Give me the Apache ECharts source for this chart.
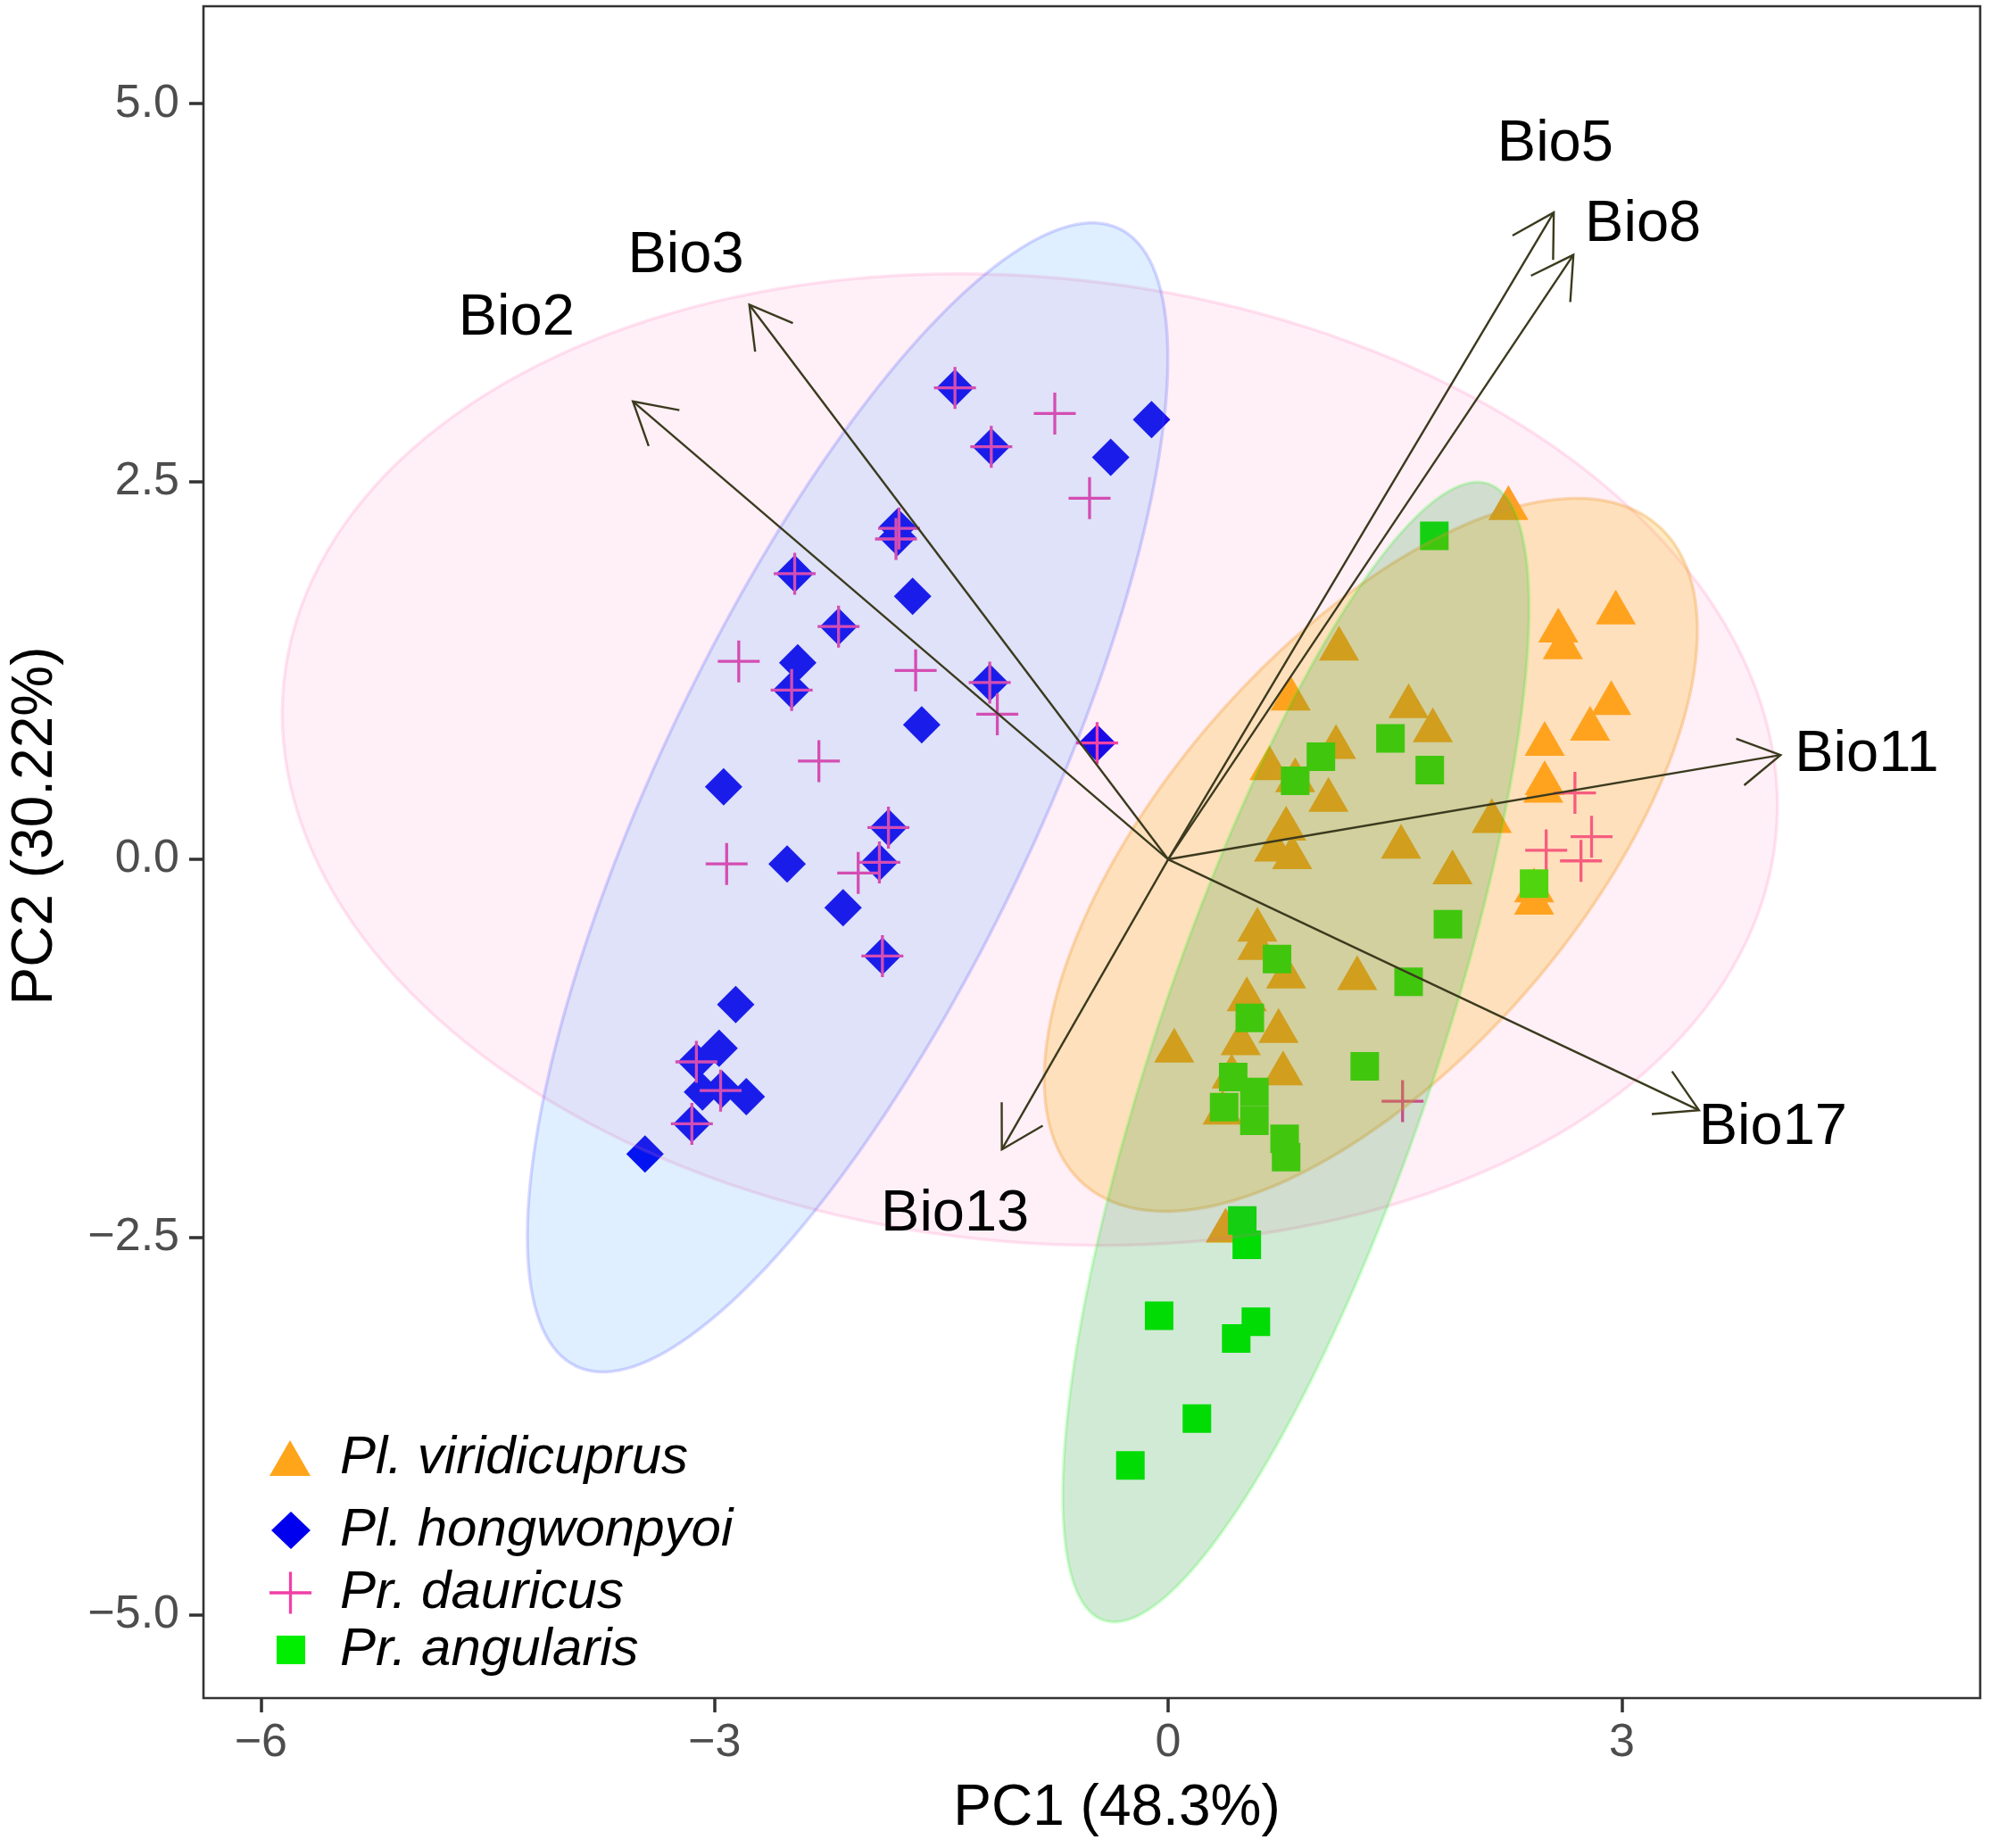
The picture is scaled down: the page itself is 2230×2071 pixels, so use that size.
<!DOCTYPE html>
<html>
<head>
<meta charset="utf-8">
<title>PCA biplot</title>
<script src="https://cdn.jsdelivr.net/npm/echarts@6.0.0/dist/echarts.min.js"></script>
<style>
    html, body { margin: 0; padding: 0; background: #ffffff; }
    #chart { width: 2230px; height: 2071px; }
</style>
</head>
<body>
<div id="chart"></div>
<script>
// group names, in legend order
var seriesNames = ["Pl. viridicuprus", "Pl. hongwonpyoi", "Pr. dauricus", "Pr. angularis"];

// PC1 / PC2 scores
var viridicuprusPts = [
    [2.25, 2.36], [1.13, 1.43], [2.58, 1.55], [2.61, 1.44], [2.96, 1.67], [0.81, 1.10],
    [1.59, 1.05], [1.75, 0.89], [2.93, 1.07], [2.79, 0.90], [1.11, 0.78], [0.67, 0.64],
    [0.84, 0.56], [1.06, 0.43], [2.49, 0.80], [2.49, 0.54], [2.48, 0.49], [0.78, 0.24],
    [0.70, 0.10], [0.82, 0.05], [2.14, 0.29], [1.54, 0.12], [1.88, -0.05], [2.42, -0.17],
    [2.42, -0.25], [0.59, -0.43], [0.59, -0.55], [0.78, -0.74], [1.25, -0.75], [0.52, -0.89],
    [0.73, -1.10], [0.48, -1.18], [0.04, -1.23], [0.76, -1.38], [0.42, -1.40], [0.36, -1.64],
    [0.38, -2.42]
];
var hongwonpyoiPts = [
    [-1.41, 3.12], [-1.17, 2.73], [-0.11, 2.91], [-0.38, 2.66], [-1.79, 2.20], [-1.79, 2.13],
    [-2.47, 1.89], [-1.69, 1.74], [-2.18, 1.54], [-2.45, 1.30], [-2.49, 1.12], [-1.18, 1.17],
    [-1.63, 0.89], [-0.47, 0.77], [-2.94, 0.48], [-1.85, 0.21], [-2.52, -0.03], [-1.91, -0.02],
    [-2.15, -0.32], [-1.89, -0.64], [-2.86, -0.96], [-2.97, -1.25], [-3.12, -1.34], [-3.08, -1.54],
    [-2.95, -1.52], [-2.79, -1.57], [-3.15, -1.75], [-3.46, -1.95]
];
var dauricusPts = [
    [-1.41, 3.12], [-1.17, 2.73], [-1.78, 2.19], [-1.80, 2.12], [-2.47, 1.89], [-2.18, 1.54],
    [-2.49, 1.12], [-1.18, 1.17], [-0.47, 0.77], [-1.85, 0.21], [-1.91, -0.02], [-1.89, -0.64],
    [-3.12, -1.34], [-2.96, -1.53], [-3.15, -1.75],
    [-0.75, 2.95], [-0.52, 2.39], [-2.84, 1.31], [-1.67, 1.25], [-1.13, 0.96], [-2.31, 0.65],
    [-2.92, -0.03], [-2.05, -0.09],
    [2.69, 0.44], [2.50, 0.06], [2.80, 0.15], [2.73, -0.01], [1.55, -1.60]
];
var angularisPts = [
    [1.76, 2.14], [1.47, 0.80], [1.01, 0.68], [1.73, 0.59], [0.84, 0.52], [2.42, -0.16],
    [1.85, -0.43], [0.72, -0.66], [1.59, -0.81], [0.54, -1.05], [1.30, -1.37], [0.43, -1.44],
    [0.57, -1.54], [0.37, -1.64], [0.57, -1.73], [0.77, -1.85], [0.78, -1.97], [0.49, -2.39],
    [0.52, -2.55], [-0.06, -3.02], [0.58, -3.06], [0.45, -3.17], [0.19, -3.70], [-0.25, -4.01]
];

// variable loadings (arrow tips) and where their names sit
var bioNames  = ["Bio2", "Bio3", "Bio5", "Bio8", "Bio11", "Bio17", "Bio13"];
var bioTipX   = [-3.54, -2.77, 2.55, 2.68, 4.05, 3.51, -1.10];
var bioTipY   = [3.03, 3.67, 4.28, 4.00, 0.69, -1.66, -1.92];
var bioLabelX = [-4.31, -3.19, 2.56, 3.14, 4.62, 4.00, -1.41];
var bioLabelY = [3.58, 3.99, 4.73, 4.20, 0.69, -1.78, -2.35];

// normal data ellipses: centre, semi axes, rotation (deg)
var ellipseGroup = ["Pr. dauricus", "Pl. hongwonpyoi", "Pl. viridicuprus", "Pr. angularis"];
var ellipseCx    = [-0.915, -2.12, 1.34, 0.845];
var ellipseCy    = [0.66, 0.41, 0.03, -1.275];
var ellipseA     = [4.96, 4.17, 2.89, 3.97];
var ellipseB     = [3.19, 1.245, 1.37, 0.92];
var ellipseAngle = [-6, 64.5, 49, 71.3];

var xTicks = [-6, -3, 0, 3];
var yTicks = [-5, -2.5, 0, 2.5, 5];

// ---- styles ----
var FONT = "'Liberation Sans', Arial, Helvetica, sans-serif";
var CROSS = "path://M0,46.5L100,46.5L100,53.5L0,53.5Z M46.5,0L53.5,0L53.5,100L46.5,100Z";

var pointStyle = {
    "Pl. viridicuprus": {symbol: "triangle", size: [45, 39], color: "#FFA51A"},
    "Pl. hongwonpyoi":  {symbol: "diamond",  size: [42, 42], color: "#0000EE"},
    "Pr. dauricus":     {symbol: CROSS,      size: [47, 47], color: "#F23FA6"},
    "Pr. angularis":    {symbol: "rect",     size: [32, 32], color: "#00EE00"}
};
var ellipseStyle = {
    "Pr. dauricus":     {fill: "rgba(255,105,180,0.10)", stroke: "rgba(255,105,180,0.18)"},
    "Pl. hongwonpyoi":  {fill: "rgba(30,144,255,0.14)",  stroke: "rgba(60,60,255,0.20)"},
    "Pl. viridicuprus": {fill: "rgba(255,175,0,0.24)",   stroke: "rgba(240,160,60,0.35)"},
    "Pr. angularis":    {fill: "rgba(0,140,20,0.18)",    stroke: "rgba(0,255,0,0.18)"}
};
// legend key boxes: [left, top, icon w, icon h]
var legendBox = [
    [302, 1604, 46, 40],
    [304, 1685, 44, 42],
    [302, 1755, 47, 47],
    [310, 1819, 32, 32]
];
var ARROW_COLOR = "#3B3A1E";

var pointData = {
    "Pl. viridicuprus": viridicuprusPts,
    "Pl. hongwonpyoi": hongwonpyoiPts,
    "Pr. dauricus": dauricusPts,
    "Pr. angularis": angularisPts
};

function minusFmt(v, digits) {
    var s = Math.abs(v).toFixed(digits);
    return v < 0 ? "\u2212" + s : s;
}

var chart = echarts.init(document.getElementById("chart"), null, {renderer: "canvas"});

var series = [];
for (var i in seriesNames) {
    var n = seriesNames[i];
    series.push({
        name: n,
        type: "scatter",
        data: pointData[n],
        symbol: pointStyle[n].symbol,
        symbolSize: pointStyle[n].size,
        itemStyle: {color: pointStyle[n].color, opacity: 1},
        silent: true,
        z: 2
    });
}

var ellipseData = [];
for (var k in ellipseGroup) {
    ellipseData.push([ellipseCx[k], ellipseCy[k], ellipseA[k], ellipseB[k], ellipseAngle[k]]);
}
series.push({
    name: "ellipses",
    type: "custom",
    data: ellipseData,
    silent: true,
    clip: true,
    z: 3,
    renderItem: function (params, api) {
        var cx = api.value(0), cy = api.value(1);
        var a = api.value(2), b = api.value(3);
        var th = api.value(4) * Math.PI / 180;
        var pts = [];
        for (var s = 0; s < 200; s++) {
            var t = s / 200 * 2 * Math.PI;
            var x = cx + a * Math.cos(t) * Math.cos(th) - b * Math.sin(t) * Math.sin(th);
            var y = cy + a * Math.cos(t) * Math.sin(th) + b * Math.sin(t) * Math.cos(th);
            pts.push(api.coord([x, y]));
        }
        var st = ellipseStyle[ellipseGroup[params.dataIndex]];
        return {
            type: "polygon",
            shape: {points: pts},
            style: {fill: st.fill, stroke: st.stroke, lineWidth: 3.5}
        };
    }
});

var arrowData = [];
for (var j in bioNames) {
    arrowData.push([bioTipX[j], bioTipY[j], bioLabelX[j], bioLabelY[j]]);
}
series.push({
    name: "loadings",
    type: "custom",
    data: arrowData,
    silent: true,
    z: 5,
    renderItem: function (params, api) {
        var o = api.coord([0, 0]);
        var p = api.coord([api.value(0), api.value(1)]);
        var l = api.coord([api.value(2), api.value(3)]);
        var ang = Math.atan2(p[1] - o[1], p[0] - o[0]);
        var h = 53, spread = Math.PI / 6;
        var a1 = [p[0] - h * Math.cos(ang - spread), p[1] - h * Math.sin(ang - spread)];
        var a2 = [p[0] - h * Math.cos(ang + spread), p[1] - h * Math.sin(ang + spread)];
        return {
            type: "group",
            children: [
                {type: "line", shape: {x1: o[0], y1: o[1], x2: p[0], y2: p[1]},
                    style: {stroke: ARROW_COLOR, lineWidth: 2.4}},
                {type: "polyline", shape: {points: [a1, p, a2]},
                    style: {stroke: ARROW_COLOR, lineWidth: 2.4, fill: null}},
                {type: "text", style: {
                    text: bioNames[params.dataIndex], x: l[0], y: l[1],
                    align: "center", verticalAlign: "middle",
                    fontSize: 65, fontFamily: FONT, fill: "#000000"
                }}
            ]
        };
    }
});

var legends = [];
for (var m in seriesNames) {
    var bx = legendBox[m];
    legends.push({
        data: [seriesNames[m]],
        orient: "vertical",
        left: bx[0],
        top: bx[1],
        itemWidth: bx[2],
        itemHeight: bx[3],
        itemGap: 0,
        selectedMode: false,
        padding: 0,
        textStyle: {
            fontSize: 60, fontStyle: "italic", fontFamily: FONT, color: "#000000",
            lineHeight: 60, padding: [0, 0, 0, 381 - bx[0] - bx[2] - 5]
        }
    });
}

var option = {
    backgroundColor: "#ffffff",
    animation: false,
    legend: legends,
    grid: {
        left: 228, top: 7, right: 11, bottom: 168,
        show: true, borderColor: "#333333", borderWidth: 2.6, backgroundColor: "#ffffff"
    },
    xAxis: {
        type: "value",
        min: -6.38, max: 5.37,
        name: "PC1 (48.3%)",
        nameLocation: "middle",
        nameGap: 92,
        nameTextStyle: {fontSize: 64, fontFamily: FONT, color: "#000000", padding: [0, 0, 0, 56]},
        axisLine: {show: false, onZero: false},
        axisTick: {show: true, length: 16, customValues: xTicks,
            lineStyle: {color: "#333333", width: 3.5}},
        axisLabel: {show: true, customValues: xTicks, margin: 25,
            fontSize: 52, fontFamily: FONT, color: "#4D4D4D",
            formatter: function (v) { return minusFmt(v, 0); }},
        splitLine: {show: false}
    },
    yAxis: {
        type: "value",
        min: -5.55, max: 5.645,
        name: "PC2 (30.22%)",
        nameLocation: "middle",
        nameGap: 156,
        nameTextStyle: {fontSize: 64, fontFamily: FONT, color: "#000000", padding: [0, 0, 0, 59]},
        axisLine: {show: false, onZero: false},
        axisTick: {show: true, length: 16, customValues: yTicks,
            lineStyle: {color: "#333333", width: 3.5}},
        axisLabel: {show: true, customValues: yTicks, margin: 27,
            fontSize: 52, fontFamily: FONT, color: "#4D4D4D",
            formatter: function (v) { return minusFmt(v, 1); }},
        splitLine: {show: false}
    },
    series: series
};

chart.setOption(option);
</script>
</body>
</html>
